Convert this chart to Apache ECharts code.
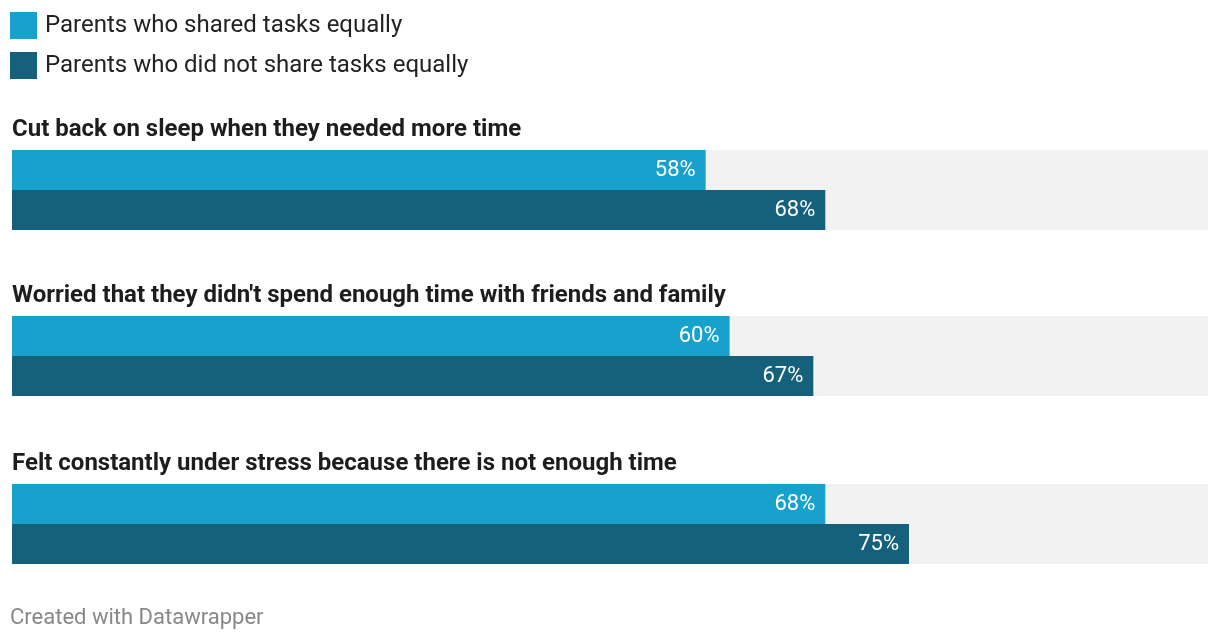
<!DOCTYPE html>
<html>
<head>
<meta charset="utf-8">
<script src="https://cdn.jsdelivr.net/npm/echarts@6/dist/echarts.min.js"></script>
<style>
html,body{margin:0;padding:0;background:#fff;}
#chart{width:1220px;height:640px;}
</style>
</head>
<body>
<div id="chart"></div>
<script>
var categories = [
  "Cut back on sleep when they needed more time",
  "Worried that they didn't spend enough time with friends and family",
  "Felt constantly under stress because there is not enough time"
];
var seriesNames = ["Parents who shared tasks equally", "Parents who did not share tasks equally"];
var sharedValues = [58, 60, 68];
var notSharedValues = [68, 67, 75];
var footerText = "Created with Datawrapper";

var colors = ["#18a1cd", "#15607a"];
var font = "Roboto, 'Noto Sans', sans-serif";
var groupTops = [150, 316, 484];

var grids = [], xAxes = [], yAxes = [], series = [], titles = [];
categories.forEach(function (cat, i) {
  grids.push({ left: 12, right: 12, top: groupTops[i], height: 80, containLabel: false });
  xAxes.push({ type: 'value', gridIndex: i, min: 0, max: 100, show: false });
  yAxes.push({ type: 'category', gridIndex: i, data: [cat], show: false });
  titles.push({
    text: cat, left: 12, top: groupTops[i] - 32, padding: 0,
    textStyle: { fontFamily: font, fontSize: 24, fontWeight: 'bold', color: '#1d1d1d' }
  });
  [sharedValues, notSharedValues].forEach(function (vals, s) {
    series.push({
      name: seriesNames[s], type: 'bar', xAxisIndex: i, yAxisIndex: i,
      data: [vals[i]], barWidth: 40, barGap: '0%',
      itemStyle: { color: colors[s] },
      showBackground: true,
      backgroundStyle: { color: '#f2f2f2' },
      silent: true,
      label: {
        show: true, position: 'insideRight', distance: 10,
        formatter: '{c}%', color: '#fff', fontFamily: font, fontSize: 22,
        padding: [5, 0, 0, 0]
      }
    });
  });
});
titles.push({
  text: footerText, left: 10, top: 607, padding: 0,
  textStyle: { fontFamily: font, fontSize: 22, fontWeight: 'normal', color: '#888' }
});

var chart = echarts.init(document.getElementById('chart'));
chart.setOption({
  animation: false,
  color: colors,
  title: titles,
  legend: {
    orient: 'vertical', left: 10, top: 12, padding: 0,
    itemWidth: 27, itemHeight: 27, itemGap: 13,
    icon: 'rect', selectedMode: false,
    data: seriesNames,
    textStyle: { fontFamily: font, fontSize: 24, color: '#222', padding: [7, 0, 0, 3] }
  },
  grid: grids,
  xAxis: xAxes,
  yAxis: yAxes,
  series: series
});
</script>
</body>
</html>
